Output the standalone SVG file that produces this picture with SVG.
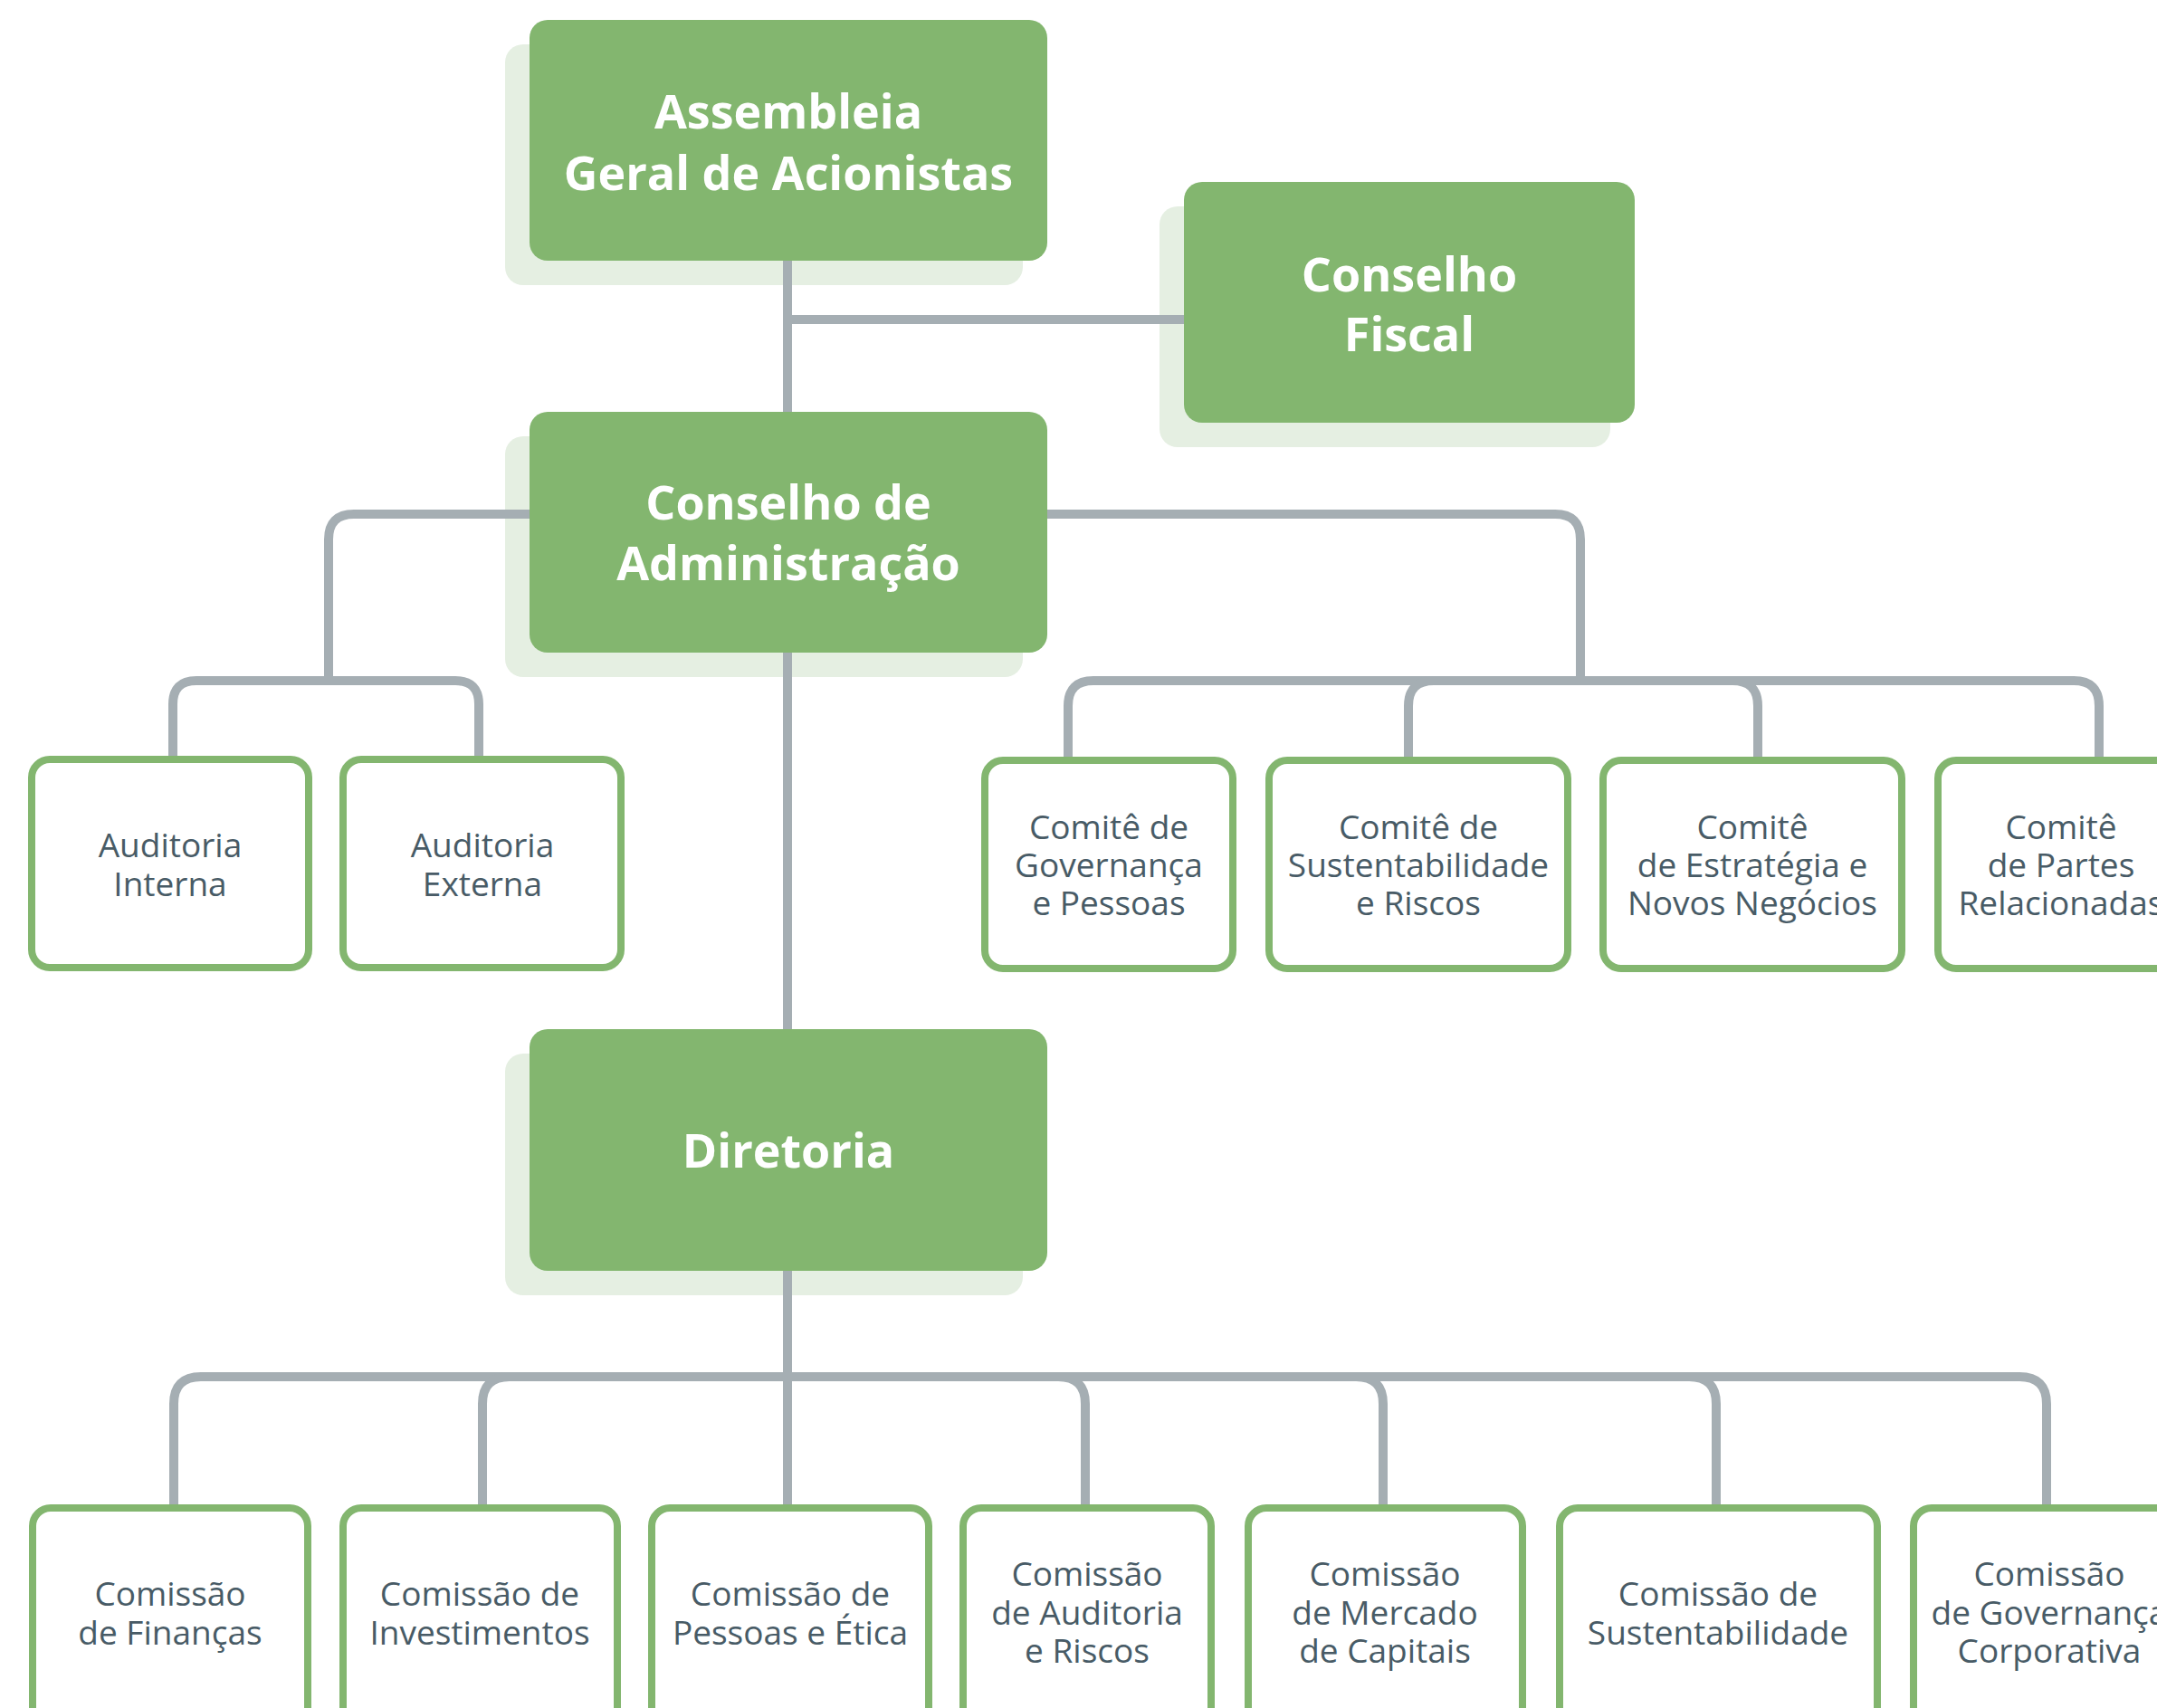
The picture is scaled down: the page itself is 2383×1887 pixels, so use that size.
<svg xmlns="http://www.w3.org/2000/svg" width="2383" height="1887" viewBox="0 0 2383 1887">
<style>
.bg{fill:#ffffff}
.shadow{fill:#E5EFE2}
.big{fill:#83B66F}
.box{fill:#ffffff;stroke:#83B66F;stroke-width:8}
.conn{fill:none;stroke:#A5AEB3;stroke-width:10}
.t1{font-family:"Open Sans","Noto Sans",sans-serif;font-weight:700;font-size:52px;fill:#ffffff;text-anchor:middle}
.t2{font-family:"Open Sans","Noto Sans",sans-serif;font-size:37px;fill:#485B66;text-anchor:middle}
</style>
<rect class="bg" x="0" y="0" width="2383" height="1887"/>
<g id="shadows">
<rect class="shadow" x="558" y="49" width="572" height="266" rx="20"/>
<rect class="shadow" x="1281" y="228" width="498" height="266" rx="20"/>
<rect class="shadow" x="558" y="482" width="572" height="266" rx="20"/>
<rect class="shadow" x="558" y="1164" width="572" height="267" rx="20"/>
</g>
<g id="connectors">
<path class="conn" d="M870,288 V455"/>
<path class="conn" d="M870,353 H1308"/>
<path class="conn" d="M870,721 V1137"/>
<path class="conn" d="M870,1404 V1662"/>
<path class="conn" d="M585,568 H391 Q363,568 363,596 V752"/>
<path class="conn" d="M363,752 H217 Q191,752 191,778 V835"/>
<path class="conn" d="M363,752 H503 Q529,752 529,778 V835"/>
<path class="conn" d="M1157,568 H1718 Q1746,568 1746,596 V752"/>
<path class="conn" d="M1746,752 H1208 Q1180,752 1180,780 V836"/>
<path class="conn" d="M1746,752 H1584 Q1556,752 1556,780 V836"/>
<path class="conn" d="M1746,752 H1914 Q1942,752 1942,780 V836"/>
<path class="conn" d="M1746,752 H2291 Q2319,752 2319,780 V836"/>
<path class="conn" d="M870,1521 H222 Q192,1521 192,1551 V1662"/>
<path class="conn" d="M870,1521 H563 Q533,1521 533,1551 V1662"/>
<path class="conn" d="M870,1521 H1169 Q1199,1521 1199,1551 V1662"/>
<path class="conn" d="M870,1521 H1498 Q1528,1521 1528,1551 V1662"/>
<path class="conn" d="M870,1521 H1866 Q1896,1521 1896,1551 V1662"/>
<path class="conn" d="M870,1521 H2231 Q2261,1521 2261,1551 V1662"/>
</g>
<g id="assembleia">
<rect class="big" x="585" y="22" width="572" height="266" rx="20"/>
<text class="t1" x="871" y="142">Assembleia</text>
<text class="t1" x="871" y="210">Geral de Acionistas</text>
</g>
<g id="conselho-fiscal">
<rect class="big" x="1308" y="201" width="498" height="266" rx="20"/>
<text class="t1" x="1557" y="322">Conselho</text>
<text class="t1" x="1557" y="388">Fiscal</text>
</g>
<g id="conselho-administracao">
<rect class="big" x="585" y="455" width="572" height="266" rx="20"/>
<text class="t1" x="871" y="574">Conselho de</text>
<text class="t1" x="871" y="641">Administração</text>
</g>
<g id="diretoria">
<rect class="big" x="585" y="1137" width="572" height="267" rx="20"/>
<text class="t1" x="871" y="1290">Diretoria</text>
</g>
<g id="auditoria-interna">
<rect class="box" x="35" y="839" width="306" height="230" rx="20"/>
<text class="t2" x="188" y="947">Auditoria</text>
<text class="t2" x="188" y="990">Interna</text>
</g>
<g id="auditoria-externa">
<rect class="box" x="379" y="839" width="307" height="230" rx="20"/>
<text class="t2" x="533" y="947">Auditoria</text>
<text class="t2" x="533" y="990">Externa</text>
</g>
<g id="comite-governanca-pessoas">
<rect class="box" x="1088" y="840" width="274" height="230" rx="20"/>
<text class="t2" x="1225" y="927">Comitê de</text>
<text class="t2" x="1225" y="969">Governança</text>
<text class="t2" x="1225" y="1011">e Pessoas</text>
</g>
<g id="comite-sustentabilidade-riscos">
<rect class="box" x="1402" y="840" width="330" height="230" rx="20"/>
<text class="t2" x="1567" y="927">Comitê de</text>
<text class="t2" x="1567" y="969">Sustentabilidade</text>
<text class="t2" x="1567" y="1011">e Riscos</text>
</g>
<g id="comite-estrategia">
<rect class="box" x="1771" y="840" width="330" height="230" rx="20"/>
<text class="t2" x="1936" y="927">Comitê</text>
<text class="t2" x="1936" y="969">de Estratégia e</text>
<text class="t2" x="1936" y="1011">Novos Negócios</text>
</g>
<g id="comite-partes-relacionadas">
<rect class="box" x="2141" y="840" width="272" height="230" rx="20"/>
<text class="t2" x="2277" y="927">Comitê</text>
<text class="t2" x="2277" y="969">de Partes</text>
<text class="t2" x="2277" y="1011">Relacionadas</text>
</g>
<g id="comissao-financas">
<rect class="box" x="36" y="1666" width="304" height="240" rx="20"/>
<text class="t2" x="188" y="1774">Comissão</text>
<text class="t2" x="188" y="1817">de Finanças</text>
</g>
<g id="comissao-investimentos">
<rect class="box" x="379" y="1666" width="303" height="240" rx="20"/>
<text class="t2" x="530" y="1774">Comissão de</text>
<text class="t2" x="530" y="1817">Investimentos</text>
</g>
<g id="comissao-pessoas-etica">
<rect class="box" x="720" y="1666" width="306" height="240" rx="20"/>
<text class="t2" x="873" y="1774">Comissão de</text>
<text class="t2" x="873" y="1817">Pessoas e Ética</text>
</g>
<g id="comissao-auditoria-riscos">
<rect class="box" x="1064" y="1666" width="274" height="240" rx="20"/>
<text class="t2" x="1201" y="1752">Comissão</text>
<text class="t2" x="1201" y="1795">de Auditoria</text>
<text class="t2" x="1201" y="1837">e Riscos</text>
</g>
<g id="comissao-mercado-capitais">
<rect class="box" x="1379" y="1666" width="303" height="240" rx="20"/>
<text class="t2" x="1530" y="1752">Comissão</text>
<text class="t2" x="1530" y="1795">de Mercado</text>
<text class="t2" x="1530" y="1837">de Capitais</text>
</g>
<g id="comissao-sustentabilidade">
<rect class="box" x="1723" y="1666" width="351" height="240" rx="20"/>
<text class="t2" x="1898" y="1774">Comissão de</text>
<text class="t2" x="1898" y="1817">Sustentabilidade</text>
</g>
<g id="comissao-governanca-corporativa">
<rect class="box" x="2114" y="1666" width="300" height="240" rx="20"/>
<text class="t2" x="2264" y="1752">Comissão</text>
<text class="t2" x="2264" y="1795">de Governança</text>
<text class="t2" x="2264" y="1837">Corporativa</text>
</g>
</svg>
